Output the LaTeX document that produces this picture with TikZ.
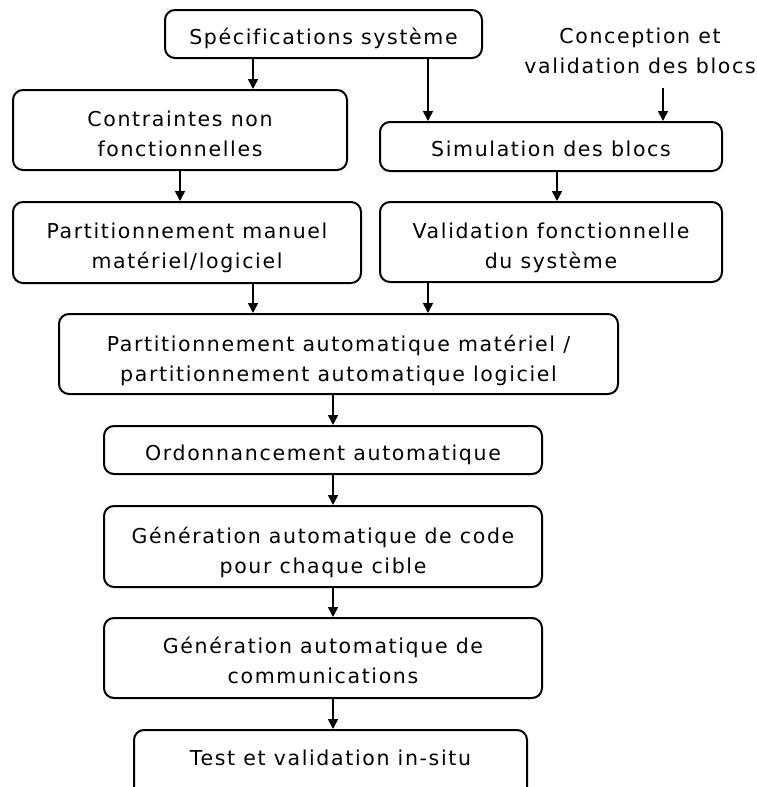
\documentclass[tikz,border=0pt]{standalone}
\usepackage{fontspec}
\setmainfont{DejaVu Sans}[LetterSpace=8,Ligatures=NoCommon]
\usetikzlibrary{arrows.meta}
\begin{document}
\begin{tikzpicture}[x=1pt,y=-1pt,
  box/.style={draw=black, line width=2pt, rounded corners=10pt, align=center,
    font=\fontsize{20.5}{30}\selectfont, inner sep=0pt, anchor=north},
  one/.style={text height=34pt, text depth=14pt},
  two/.style={text height=66pt, text depth=14pt},
  lbl/.style={align=center, font=\fontsize{20.5}{30}\selectfont, inner sep=0pt},
  arr/.style={line width=1.7pt, -{Triangle[length=10pt,width=10pt]}}]
\useasboundingbox (0,0) rectangle (756,787);
\clip (0,0) rectangle (756,787);
% x positions of connectors
\coordinate (xa) at (253,0);
\coordinate (xb) at (428,0);
\coordinate (xd) at (557,0);
\coordinate (xe) at (180,0);
\coordinate (xm) at (333,0);
% nodes
\node[box, one, minimum width=317pt] (spec) at (323.5,9) {Spécifications système};
\node[lbl, anchor=north, text height=45pt, text depth=5pt] (concep) at (640,28) {Conception et\\validation des blocs};
\coordinate (cc) at (663,88);
\node[box, two, minimum width=334pt] (contr) at (180,89) {Contraintes non\\fonctionnelles};
\node[box, one, minimum width=342pt, text depth=15pt] (simul) at (551,121) {Simulation des blocs};
\node[box, two, minimum width=348pt, text depth=15pt] (pm) at (187,201) {Partitionnement manuel\\matériel/logiciel};
\node[box, two, minimum width=342pt] (vf) at (551,201) {Validation fonctionnelle\\du système};
\node[box, two, minimum width=559pt, text height=67pt, text depth=13pt] (pa) at (338.5,313) {Partitionnement automatique matériel /\\partitionnement automatique logiciel};
\node[box, one, minimum width=438pt] (ord) at (323,425) {Ordonnancement automatique};
\node[box, two, minimum width=438pt, text height=67pt] (gen1) at (323,505) {Génération automatique de code\\pour chaque cible};
\node[box, two, minimum width=438pt, text height=65pt, text depth=15pt] (gen2) at (323,617) {Génération automatique de\\communications};
\node[box, minimum width=393pt, text height=35pt, text depth=60pt] (test) at (330.5,729) {Test et validation in-situ};
% connectors
\draw[arr] (spec.south -| xa) -- (contr.north -| xa);
\draw[arr] (spec.south -| xb) -- (simul.north -| xb);
\draw[arr] (cc) -- (simul.north -| cc);
\draw[arr] (contr.south -| xe) -- (pm.north -| xe);
\draw[arr] (simul.south -| xd) -- (vf.north -| xd);
\draw[arr] (pm.south -| xa) -- (pa.north -| xa);
\draw[arr] (vf.south -| xb) -- (pa.north -| xb);
\draw[arr] (pa.south -| xm) -- (ord.north -| xm);
\draw[arr] (ord.south -| xm) -- (gen1.north -| xm);
\draw[arr] (gen1.south -| xm) -- (gen2.north -| xm);
\draw[arr] (gen2.south -| xm) -- (test.north -| xm);
\end{tikzpicture}
\end{document}
